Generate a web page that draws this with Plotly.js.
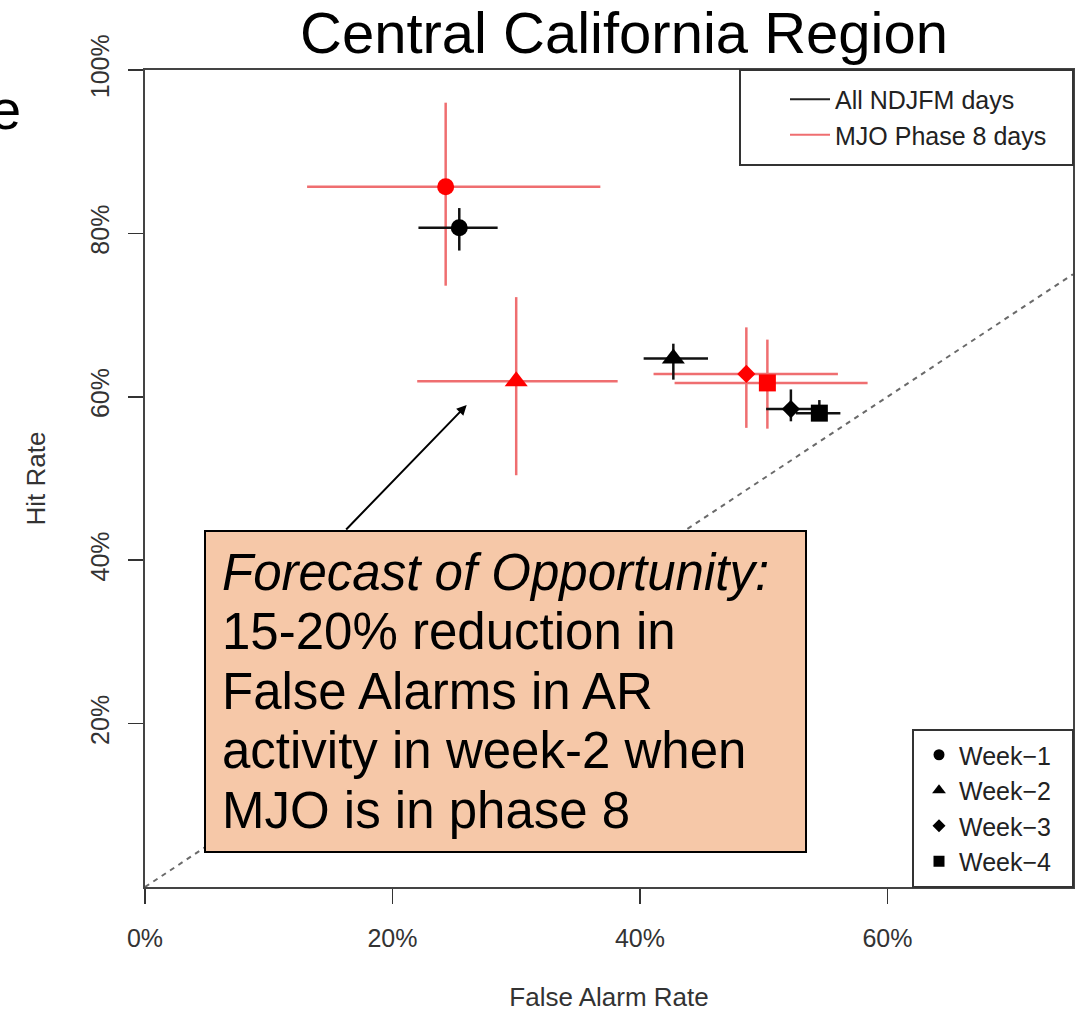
<!DOCTYPE html>
<html><head><meta charset="utf-8">
<script src="https://cdn.plot.ly/plotly-3.0.1.min.js"></script>
<style>html,body{margin:0;padding:0;background:#fff;}</style>
</head><body><div id="chart" style="width:1089px;height:1012px;"></div>
<script>
// ---- data (percent) ----
const weeks = ['Week\u22121', 'Week\u22122', 'Week\u22123', 'Week\u22124'];
const groups = ['All NDJFM days', 'MJO Phase 8 days'];

const allFAR   = [25.4, 42.7, 52.2, 54.5];
const allFARlo = [22.1, 40.3, 50.2, 52.6];
const allFARhi = [28.5, 45.5, 54.0, 56.2];
const allHR    = [80.7, 64.7, 58.5, 58.0];
const allHRlo  = [77.9, 62.1, 57.0, 57.2];
const allHRhi  = [83.1, 66.5, 60.9, 59.6];

const mjoFAR   = [24.3, 30.0, 48.6, 50.3];
const mjoFARlo = [13.1, 22.0, 41.1, 42.8];
const mjoFARhi = [36.8, 38.2, 56.0, 58.4];
const mjoHR    = [85.7, 61.9, 62.8, 61.7];
const mjoHRlo  = [73.6, 50.4, 56.2, 56.1];
const mjoHRhi  = [96.0, 72.2, 68.5, 67.0];

const diagonal = [0, 75];
const xTicks = [0, 20, 40, 60];
const xTickLabels = ['0%', '20%', '40%', '60%'];
const yTicks = [20, 40, 60, 80, 100];
const yTickLabels = ['20%', '40%', '60%', '80%', '100%'];

const noteLines = ['<i>Forecast of Opportunity:</i>', '15-20% reduction in', 'False Alarms in AR',
                   'activity in week-2 when', 'MJO is in phase 8'];

// ---- styling ----
const FONT = 'Liberation Sans, Arial, Helvetica, sans-serif';
const symbols = ['circle', 'triangle-up', 'diamond', 'square'];
const sizes = [17, 20, 14, 17];
const RED_BAR = '#ef6e70';
const BLK_BAR = '#111111';

const W = 1089, H = 1012, ML = 145, MR = 16, MT = 70, MB = 125;
const PW = W - ML - MR, PH = H - MT - MB;
const px = v => (v - ML) / PW;          // pixel x -> paper
const py = v => (H - MB - v) / PH;      // pixel y -> paper

function diff(a, b) { return a.map((v, i) => v - b[i]); }

function pointTrace(x, xlo, xhi, y, ylo, yhi, markerColor, barColor) {
  return {
    type: 'scatter', mode: 'markers', x: x, y: y, showlegend: false, hoverinfo: 'skip',
    marker: { symbol: symbols, size: sizes, color: markerColor, opacity: 1, line: { width: 0 } },
    error_x: { type: 'data', symmetric: false, array: diff(xhi, x), arrayminus: diff(x, xlo),
               color: barColor, thickness: 2.5, width: 0 },
    error_y: { type: 'data', symmetric: false, array: diff(yhi, y), arrayminus: diff(y, ylo),
               color: barColor, thickness: 2.5, width: 0 }
  };
}

const data = [
  { type: 'scatter', mode: 'lines', x: diagonal, y: diagonal, showlegend: false, hoverinfo: 'skip',
    line: { color: '#6a6a6a', width: 2, dash: '5px,5px' } },
  pointTrace(mjoFAR, mjoFARlo, mjoFARhi, mjoHR, mjoHRlo, mjoHRhi, '#ff0000', RED_BAR),
  pointTrace(allFAR, allFARlo, allFARhi, allHR, allHRlo, allHRhi, '#000000', BLK_BAR),
  // legend 1 entries
  { type: 'scatter', mode: 'lines', x: [null], y: [null], name: groups[0], legend: 'legend',
    line: { color: '#222', width: 2 } },
  { type: 'scatter', mode: 'lines', x: [null], y: [null], name: groups[1], legend: 'legend',
    line: { color: RED_BAR, width: 2 } }
];
weeks.forEach((w, i) => {
  data.push({ type: 'scatter', mode: 'markers', x: [null], y: [null], name: w, legend: 'legend2',
    marker: { symbol: symbols[i], size: [11, 12, 10, 11][i], color: '#000', opacity: 1 } });
});

const annotations = [
  { xref: 'paper', yref: 'paper', x: px(22), xanchor: 'right', y: py(110), yanchor: 'middle',
    text: 'e', showarrow: false, borderpad: 0, font: { family: FONT, size: 56, color: '#000' } },
  { xref: 'x', yref: 'y', x: 26.0, y: 59.0, ax: -122, ay: 126, text: '', showarrow: true,
    arrowhead: 2, arrowsize: 1, arrowwidth: 2, arrowcolor: '#000', standoff: 0 }
];
noteLines.forEach((t, i) => {
  annotations.push({ xref: 'paper', yref: 'paper', x: px(221), xanchor: 'left',
    y: py(572 + i * 59.5), yanchor: 'middle', text: t, showarrow: false, borderpad: 0,
    font: { family: FONT, size: 51, color: '#000' } });
});

const layout = {
  width: W, height: H,
  margin: { l: ML, r: MR, t: MT, b: MB },
  paper_bgcolor: '#fff', plot_bgcolor: '#fff',
  font: { family: FONT, color: '#333', size: 26 },
  title: { text: 'Central California Region', x: 624 / W, xref: 'container', xanchor: 'center',
           y: 1 - 33 / H, yref: 'container', yanchor: 'middle',
           font: { family: FONT, size: 58, color: '#000' } },
  xaxis: { range: [0, 75], tickvals: xTicks, ticktext: xTickLabels, ticks: 'outside', ticklen: 15,
           tickwidth: 1.5, tickcolor: '#333', showline: true, mirror: true, linecolor: '#444', linewidth: 2,
           showgrid: false, zeroline: false, ticklabelstandoff: 13,
           tickfont: { size: 25, color: '#333' },
           title: { text: 'False Alarm Rate', font: { size: 26, color: '#333' }, standoff: 40 } },
  yaxis: { range: [0, 100], tickvals: yTicks, ticktext: yTickLabels, ticks: 'outside', ticklen: 15,
           tickwidth: 1.5, tickcolor: '#333', showline: true, mirror: true, linecolor: '#444', linewidth: 2,
           showgrid: false, zeroline: false, tickangle: -90, ticklabelstandoff: 9,
           tickfont: { size: 25, color: '#333' },
           title: { text: 'Hit Rate', font: { size: 26, color: '#333' }, standoff: 33 } },
  legend: { x: px(785), xanchor: 'left', y: py(117), yanchor: 'middle', bgcolor: 'rgba(0,0,0,0)',
            borderwidth: 0, font: { family: FONT, size: 25, color: '#222' }, itemwidth: 40 },
  legend2: { x: px(919), xanchor: 'left', y: py(808), yanchor: 'middle', bgcolor: 'rgba(0,0,0,0)',
             borderwidth: 0, font: { family: FONT, size: 25, color: '#222' }, itemsizing: 'trace' },
  shapes: [
    { type: 'rect', xref: 'paper', yref: 'paper', x0: px(740), x1: 1, y0: py(165), y1: 1,
      fillcolor: '#fff', line: { color: '#333', width: 2 }, layer: 'above' },
    { type: 'rect', xref: 'paper', yref: 'paper', x0: px(913), x1: 1, y0: 0, y1: py(730),
      fillcolor: '#fff', line: { color: '#333', width: 2 }, layer: 'above' },
    { type: 'rect', xref: 'paper', yref: 'paper', x0: px(205), x1: px(806), y0: py(852), y1: py(531),
      fillcolor: '#f6c8a8', line: { color: '#000', width: 2 }, layer: 'above' }
  ],
  annotations: annotations
};

Plotly.newPlot('chart', data, layout, { staticPlot: true, displayModeBar: false });
</script>
</body></html>
